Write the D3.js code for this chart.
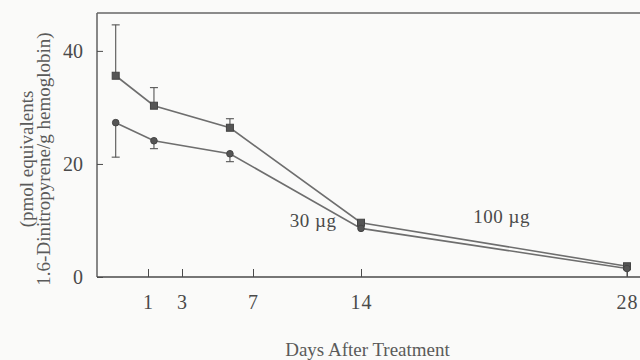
<!DOCTYPE html>
<html><head><meta charset="utf-8">
<script src="https://cdn.jsdelivr.net/npm/d3@7"></script>
<style>html,body{margin:0;padding:0;background:#fafaf9;}svg{display:block;}</style>
</head><body>
<svg id="c" width="640" height="360"></svg>
<script>
// ---- data ----
const days = [-0.9, 1.35, 5.7, 14, 28];
const dose100 = [35.6, 30.3, 26.4, 9.6, 1.9];        // squares (100 µg)
const dose100ErrTop = [44.6, 33.5, 28.0, null, null];
const dose30 = [27.3, 24.1, 21.8, 8.6, 1.5];         // circles (30 µg)
const dose30ErrBottom = [21.2, 22.7, 20.4, null, 0];
const xTicks = [1, 3, 7, 14, 28];
const yTicks = [0, 20, 40];
const seriesLabels = ["30 µg", "100 µg"];
const xTitle = "Days After Treatment";
const yTitle = ["(pmol equivalents", "1.6-Dinitropyrene/g hemoglobin)"];

// ---- layout ----
const svg = d3.select("#c");
const L = 97, T = 13, B = 277, R = 640;
const x = d3.scaleLinear()
  .domain([-2, 1, 3, 7, 14, 28, 28.7])
  .range([L, 148, 182, 253, 361, 627, R]);
const y = d3.scaleLinear().domain([0, 46.7]).range([B, T]);

const ink = "#4a4a4a", lineC = "#6e6e6e", markC = "#555";
const font = "'Liberation Serif', 'DejaVu Serif', serif";

// frame: left + top
svg.append("line").attr("x1", L).attr("x2", L).attr("y1", T).attr("y2", B)
  .attr("stroke", ink).attr("stroke-width", 1.3);
svg.append("line").attr("x1", L).attr("x2", R).attr("y1", T).attr("y2", T)
  .attr("stroke", "#666").attr("stroke-width", 1.3);

// x axis
const gx = svg.append("g").attr("transform", `translate(0,${B})`)
  .call(d3.axisBottom(x).tickValues(xTicks).tickSize(-8).tickPadding(18).tickFormat(d3.format("d")));
gx.select(".domain").attr("d", `M${L},0H${R}`).attr("stroke", ink).attr("stroke-width", 1.3);
gx.selectAll(".tick line").attr("stroke", ink).attr("stroke-width", 1);
gx.selectAll("text").attr("font-family", font).attr("font-size", 20).attr("fill", ink)
  .attr("letter-spacing", 1);

// y axis
const gy = svg.append("g").attr("transform", `translate(${L},0)`)
  .call(d3.axisLeft(y).tickValues(yTicks).tickSize(-6).tickPadding(14));
gy.select(".domain").remove();
gy.selectAll(".tick line").attr("stroke", ink).attr("stroke-width", 1);
gy.selectAll("text").attr("font-family", font).attr("font-size", 20).attr("fill", ink);

// titles
svg.append("text").attr("x", (L + R) / 2 - 1).attr("y", 356).attr("text-anchor", "middle")
  .attr("font-family", font).attr("font-size", 19).attr("fill", "#5a5a5a").text(xTitle);
const yt = svg.append("g").attr("transform", "translate(0,159) rotate(-90)");
yt.selectAll("text").data(yTitle).join("text")
  .attr("x", 0).attr("y", (d, i) => 33 + i * 17)
  .attr("text-anchor", "middle").attr("font-family", font).attr("font-size", 19)
  .attr("fill", "#5a5a5a").text(d => d);

// series lines
const line = d3.line().x((d, i) => x(days[i])).y(d => y(d));
svg.append("path").datum(dose100).attr("d", line).attr("fill", "none")
  .attr("stroke", lineC).attr("stroke-width", 1.6);
svg.append("path").datum(dose30).attr("d", line).attr("fill", "none")
  .attr("stroke", lineC).attr("stroke-width", 1.6);

// error bars
function errBars(vals, ends) {
  const g = svg.append("g").attr("stroke", "#555").attr("stroke-width", 1.1);
  vals.forEach((v, i) => {
    if (ends[i] == null) return;
    const cx = x(days[i]);
    g.append("line").attr("x1", cx).attr("x2", cx).attr("y1", y(v)).attr("y2", y(ends[i]));
    if (ends[i] > 0) g.append("line").attr("x1", cx - 4).attr("x2", cx + 4)
      .attr("y1", y(ends[i])).attr("y2", y(ends[i]));
  });
}
errBars(dose100, dose100ErrTop);
errBars(dose30, dose30ErrBottom);

// markers
svg.append("g").selectAll("rect").data(dose100).join("rect")
  .attr("x", (d, i) => x(days[i]) - 3.5).attr("y", d => y(d) - 3.5)
  .attr("width", 7).attr("height", 7).attr("fill", markC).attr("stroke", "#444");
svg.append("g").selectAll("circle").data(dose30).join("circle")
  .attr("cx", (d, i) => x(days[i])).attr("cy", d => y(d)).attr("r", 3.3)
  .attr("fill", markC).attr("stroke", "#444");

// series labels
svg.append("text").attr("x", x(10.9)).attr("y", y(8.8)).attr("text-anchor", "middle")
  .attr("font-family", font).attr("font-size", 19).attr("fill", ink).attr("letter-spacing", 0.5)
  .text(seriesLabels[0]);
svg.append("text").attr("x", x(21.4)).attr("y", y(9.6)).attr("text-anchor", "middle")
  .attr("font-family", font).attr("font-size", 19).attr("fill", ink).attr("letter-spacing", 0.5)
  .text(seriesLabels[1]);
</script>
</body></html>
